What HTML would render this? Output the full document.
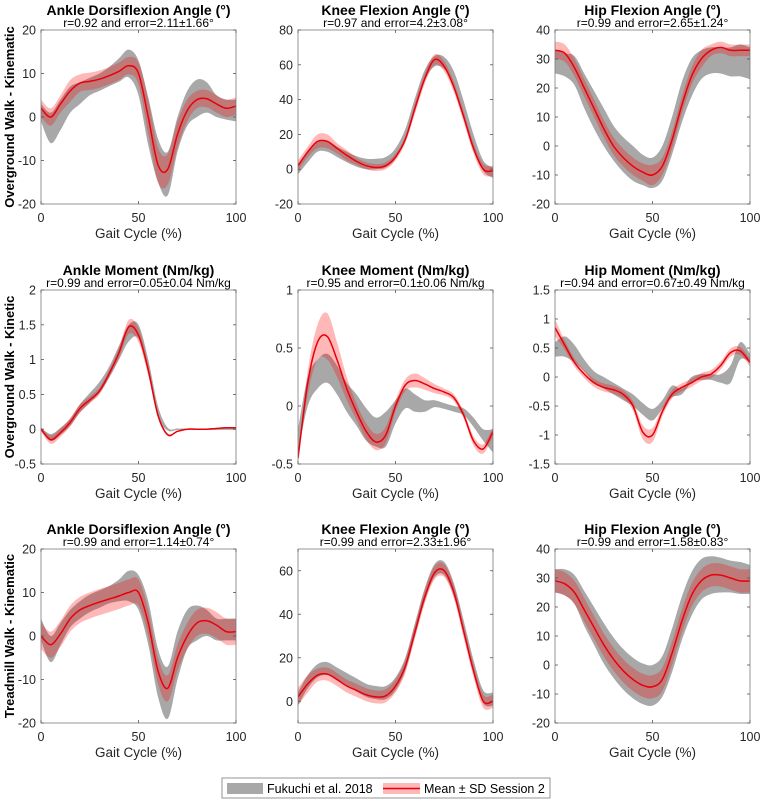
<!DOCTYPE html>
<html><head><meta charset="utf-8"><style>
body{margin:0;background:#fff}
svg{display:block;font-family:"Liberation Sans",Arial,sans-serif}
</style></head><body>
<svg id="fig" width="760" height="800" viewBox="0 0 760 800"></svg>
<script>
const xs=[0,5,10,15,20,25,30,35,40,45,50,55,60,65,70,75,80,85,90,95,100];
const titles=["Ankle Dorsiflexion Angle (°)","Knee Flexion Angle (°)","Hip Flexion Angle (°)","Ankle Moment (Nm/kg)","Knee Moment (Nm/kg)","Hip Moment (Nm/kg)","Ankle Dorsiflexion Angle (°)","Knee Flexion Angle (°)","Hip Flexion Angle (°)"];
const subtitles=["r=0.92 and error=2.11±1.66°","r=0.97 and error=4.2±3.08°","r=0.99 and error=2.65±1.24°","r=0.99 and error=0.05±0.04 Nm/kg","r=0.95 and error=0.1±0.06 Nm/kg","r=0.94 and error=0.67±0.49 Nm/kg","r=0.99 and error=1.14±0.74°","r=0.99 and error=2.33±1.96°","r=0.99 and error=1.58±0.83°"];
const rowLabels=["Overground Walk - Kinematic","Overground Walk - Kinetic","Treadmill Walk - Kinematic"];
const yMin=[-20,-20,-20,-0.5,-0.5,-1.5,-20,-10,-20];
const yMax=[20,80,40,2,1,1.5,20,70,40];
const yTicks=[[-20,-10,0,10,20],[-20,0,20,40,60,80],[-20,-10,0,10,20,30,40],[-0.5,0,0.5,1,1.5,2],[-0.5,0,0.5,1],[-1.5,-1,-0.5,0,0.5,1,1.5],[-20,-10,0,10,20],[0,20,40,60],[-20,-10,0,10,20,30,40]];
const xTicks=[0,50,100];
const gMean=[
[1,-2.5,0.5,4,5.5,7,8,9.3,10.8,12.3,9,-1,-10,-13,-4,2,4.3,4.5,2.5,1.7,1.5],
[0,7,13,13,10,7,4.5,3,3,4,9,20,38,54,62,61,52,35,16,2,-2],
[29,28,26,19,12.5,6.5,1,-3,-6,-8.25,-9.25,-6,3.5,15,23.5,28,29.5,29.5,29,29.5,28.5],
[0,-0.12,-0.03,0.1,0.3,0.45,0.6,0.82,1.1,1.38,1.4,0.9,0.25,0,0,0,0,0,0,0,0],
[-0.3,0.125,0.275,0.325,0.225,0.075,-0.035,-0.16,-0.225,-0.2,-0.05,0.065,0.025,0,0.02,0,-0.025,-0.05,-0.14,-0.25,-0.3],
[0.475,0.525,0.4,0.2,0,-0.1,-0.2,-0.3,-0.4,-0.55,-0.65,-0.475,-0.25,-0.25,-0.05,0,0,-0.025,0.05,0.45,0.325],
[1.5,-3,0.5,4,6,7.5,8.5,9.5,10.5,11.5,10,3,-8.5,-13,-4.5,1.5,3,3,1.5,1.5,1.5],
[1,9,14,15,12.5,10,7.5,5,4,4,8,17,33,49,60,61,51,34,16,2,1],
[29,28.5,26,19.5,13.5,7.5,2.5,-1.5,-4.5,-6.5,-7,-4,5,16,24.5,29.5,31,31,30.5,30,29.5]];
const gSd=[
[2,3.5,3.5,3,2.5,2,2,2.2,2.7,3.2,4,5.5,5,5,4,4,4.3,3.5,2.5,2.3,2.5],
[3,3,3,3,3,3,3,3,3,3,3,3,3,3,3,3.5,4,4,4,3,3],
[4,4,5,6,6.5,6.5,6,6,6,5.25,5.25,6,6.5,7,6.5,5,4.5,4.5,5,5.5,5.5],
[0.02,0.05,0.05,0.05,0.06,0.07,0.08,0.08,0.1,0.12,0.1,0.1,0.08,0.02,0.01,0.01,0.01,0.01,0.01,0.01,0.01],
[0.1,0.125,0.125,0.125,0.125,0.125,0.135,0.14,0.125,0.15,0.1,0.085,0.075,0.05,0.03,0.025,0.025,0.03,0.04,0.05,0.1],
[0.125,0.175,0.15,0.1,0.1,0.1,0.1,0.1,0.1,0.1,0.1,0.075,0.1,0.05,0.05,0.05,0.05,0.075,0.15,0.15,0.075],
[2.5,3,2.5,2,2,2,2,2,2.5,3.5,4,5,5.5,6,5.5,4.5,4,3,2.5,2.5,2.5],
[3,3,3,3,3,3,3,3,3,3,3,3,3,3,3,3,3,3,3,3,3],
[4,4.5,5,6,6.5,7,7,7,7,7,7,7,7.5,7.5,7.5,7,6.5,6,5.5,5.5,5]];
const rMean=[
[2,0,3,6,7.8,8.2,8.7,9.5,10.5,11.8,10,0,-11,-12,-4,1.5,4,4.2,3,2,2.5],
[2,10,16,16,12,8,4.5,2,1,2,7,17,35,52,63,59,47,30,12,0,-1],
[33,32,27,20,13,6,0,-4,-7,-9,-10,-7,2,14,24,30,33,34,33,33,33],
[0,-0.15,-0.05,0.1,0.3,0.42,0.55,0.8,1.1,1.47,1.35,0.85,0.2,-0.08,-0.03,0,0,0,0.01,0.02,0.02],
[-0.45,0.2,0.55,0.6,0.4,0.15,-0.05,-0.22,-0.31,-0.25,0,0.18,0.22,0.19,0.15,0.12,0.07,-0.08,-0.3,-0.37,-0.22],
[0.85,0.55,0.25,0.05,-0.1,-0.18,-0.22,-0.3,-0.5,-0.95,-1.0,-0.6,-0.3,-0.18,-0.1,0,0.05,0.2,0.42,0.45,0.25],
[0,-2,0.5,4,6,7,7.8,8.5,9.2,10,10,3,-8,-12,-5,0,3,3.5,2.5,1,1],
[2,8,12,12.5,10,7,5,3,2,2.5,7,16,32,48,59,60,50,32,14,0,0],
[29,28,25,19,13,7,2,-2,-5,-7,-7.5,-5,4,15,24,29,31,31,30,29,29]];
const rSd=[
[2,2,2,2.5,2,2,2,2,2,2,2.5,4,4,3.5,3,2.5,2,2,2,2,2],
[3,3,4,4,3,3,2,2,2,2,2,2,3,3,3,3,3,3,3,3,3],
[3,3,3,3,3,3,3,3,3,3,3.5,3,3,3,3,3,2,2,2,2,2],
[0.03,0.06,0.06,0.06,0.06,0.05,0.05,0.05,0.07,0.1,0.1,0.08,0.04,0.02,0.01,0.01,0.01,0.01,0.01,0.01,0.01],
[0.02,0.1,0.15,0.2,0.15,0.1,0.07,0.07,0.07,0.07,0.05,0.05,0.06,0.05,0.04,0.03,0.03,0.03,0.04,0.04,0.04],
[0.15,0.08,0.07,0.07,0.07,0.07,0.07,0.07,0.08,0.12,0.12,0.08,0.07,0.07,0.07,0.07,0.07,0.07,0.07,0.07,0.07],
[3,3,3,3,3,3,3,3,3,3,3,3,3,3,3,3,3,3,3,3,3],
[4,4,3,3,3,3,3,3,3,3,3,3,3,3,3,3,3,3,3,3,3],
[4,4,4,4,4,4,4,4,4,4,4,4,4,4,4,4,4,4,4,4,4]];

const NS="http://www.w3.org/2000/svg";
const svg=document.getElementById('fig');
const colL=[41,298,555], colW=195, rowT=[30,290,549], rowH=174;
function mk(tag,attrs,parent,text){const e=document.createElementNS(NS,tag);for(const k in attrs)e.setAttribute(k,attrs[k]);if(text!==undefined)e.textContent=text;(parent||svg).appendChild(e);return e;}
function smooth(pts){let d='';for(let i=0;i<pts.length-1;i++){const p0=pts[Math.max(0,i-1)],p1=pts[i],p2=pts[i+1],p3=pts[Math.min(pts.length-1,i+2)];const c1=[p1[0]+(p2[0]-p0[0])/6,p1[1]+(p2[1]-p0[1])/6],c2=[p2[0]-(p3[0]-p1[0])/6,p2[1]-(p3[1]-p1[1])/6];d+=` C${c1[0].toFixed(2)},${c1[1].toFixed(2)} ${c2[0].toFixed(2)},${c2[1].toFixed(2)} ${p2[0].toFixed(2)},${p2[1].toFixed(2)}`;}return d;}
function linePath(pts){return 'M'+pts[0][0].toFixed(2)+','+pts[0][1].toFixed(2)+smooth(pts);}
function bandPath(up,lo){const rl=lo.slice().reverse();return linePath(up)+' L'+rl[0][0].toFixed(2)+','+rl[0][1].toFixed(2)+smooth(rl)+' Z';}
function fmt(v){return (Math.round(v*10)/10).toString();}

for(let p=0;p<9;p++){
  const r=Math.floor(p/3),c=p%3;
  const L=colL[c],T=rowT[r],R=L+colW,B=T+rowH;
  const sx=v=>L+(v-0)/(100-0)*colW;
  const sy=v=>B-(v-yMin[p])/(yMax[p]-yMin[p])*rowH;
  const g=mk('g',{});
  
  
  const cid='clip'+p;
  const cp=mk('clipPath',{id:cid},g);mk('rect',{x:L,y:T,width:colW,height:rowH},cp);
  const plot=mk('g',{'clip-path':`url(#${cid})`},g);
  const gUp=xs.map((x,i)=>[sx(x),sy(gMean[p][i]+gSd[p][i])]);
  const gLo=xs.map((x,i)=>[sx(x),sy(gMean[p][i]-gSd[p][i])]);
  const gb=mk('path',{d:bandPath(gUp,gLo),fill:'#a8a8a8',stroke:'none'},plot);
  
  
  const rUp=xs.map((x,i)=>[sx(x),sy(rMean[p][i]+rSd[p][i])]);
  const rLo=xs.map((x,i)=>[sx(x),sy(rMean[p][i]-rSd[p][i])]);
  const rb=mk('path',{d:bandPath(rUp,rLo),fill:'#ff0000','fill-opacity':'0.28',stroke:'none'},plot);
  
  
  const rm=mk('path',{d:linePath(xs.map((x,i)=>[sx(x),sy(rMean[p][i])])),fill:'none',stroke:'#e8000b','stroke-width':'1.5'},plot);
  
  
  const box=mk('rect',{x:L,y:T,width:colW,height:rowH,fill:'none',stroke:'#7a7a7a','stroke-width':'0.8'},g);
  
  
  yTicks[p].forEach(t=>{const y=sy(t);
    mk('line',{x1:L,x2:L+3,y1:y,y2:y,stroke:'#555','stroke-width':'0.8'},g);
    mk('line',{x1:R-3,x2:R,y1:y,y2:y,stroke:'#555','stroke-width':'0.8'},g);
    const tl=mk('text',{x:L-5,y:y+4.5,'text-anchor':'end','font-size':'12.5',fill:'#262626'},g,fmt(t));
    
    
  });
  xTicks.forEach(t=>{const x=sx(t);
    mk('line',{x1:x,x2:x,y1:B,y2:B-3,stroke:'#555','stroke-width':'0.8'},g);
    mk('line',{x1:x,x2:x,y1:T,y2:T+3,stroke:'#555','stroke-width':'0.8'},g);
    const tl=mk('text',{x:x,y:B+18,'text-anchor':'middle','font-size':'12.5',fill:'#262626'},g,String(t));
    
    
  });
  const xt=mk('text',{x:L+colW/2,y:B+34,'text-anchor':'middle','font-size':'13.5',fill:'#262626'},g,'Gait Cycle (%)');
  
  
  const tt=mk('text',{x:L+colW/2,y:T-15,'text-anchor':'middle','font-size':'14','font-weight':'bold',fill:'#000'},g,titles[p]);
  
  
  const st=mk('text',{x:L+colW/2,y:T-3,'text-anchor':'middle','font-size':'12',fill:'#000'},g,subtitles[p]);
  
  
}
rowLabels.forEach((lab,r)=>{const cy=rowT[r]+rowH/2;
  const t=mk('text',{x:0,y:0,transform:`translate(14,${cy}) rotate(-90)`,'text-anchor':'middle','font-size':'13','font-weight':'bold',fill:'#000'},svg,lab);
  
  
});
const lg=mk('g',{});


mk('rect',{x:222,y:778,width:328,height:20,fill:'#fff',stroke:'#7a7a7a','stroke-width':'0.8'},lg);
const e1=mk('rect',{x:227,y:783,width:36,height:11,fill:'#a8a8a8'},lg);


mk('text',{x:267,y:793,'font-size':'12.5',fill:'#000'},lg,'Fukuchi et al. 2018');
mk('rect',{x:383,y:783,width:37,height:11,fill:'#ff0000','fill-opacity':'0.28'},lg);
const e2=mk('line',{x1:383,x2:420,y1:788.5,y2:788.5,stroke:'#e8000b','stroke-width':'1.5'},lg);


mk('text',{x:424,y:793,'font-size':'12.5',fill:'#000'},lg,'Mean ± SD Session 2');
</script>
</body></html>
